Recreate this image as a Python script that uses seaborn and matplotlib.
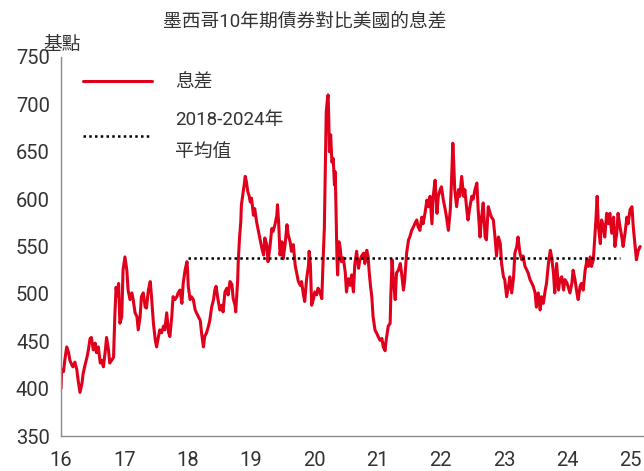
import matplotlib
matplotlib.use("Agg")
import matplotlib.pyplot as plt
import seaborn as sns

# spread of Mexico 10y bond over US 10y, basis points
years = [
    2016.00, 2016.01, 2016.04, 2016.06, 2016.09, 2016.12, 2016.14, 2016.17, 2016.19, 2016.22,
    2016.25, 2016.27, 2016.30, 2016.33, 2016.35, 2016.38, 2016.41, 2016.43, 2016.46, 2016.48,
    2016.51, 2016.54, 2016.56, 2016.59, 2016.62, 2016.64, 2016.67, 2016.70, 2016.72, 2016.75,
    2016.77, 2016.80, 2016.83, 2016.85, 2016.87, 2016.89, 2016.91, 2016.93, 2016.96, 2016.98,
    2017.01, 2017.04, 2017.06, 2017.09, 2017.12, 2017.14, 2017.17, 2017.20, 2017.22, 2017.25,
    2017.27, 2017.30, 2017.33, 2017.35, 2017.38, 2017.41, 2017.43, 2017.46, 2017.49, 2017.51,
    2017.54, 2017.56, 2017.59, 2017.62, 2017.64, 2017.67, 2017.70, 2017.72, 2017.75, 2017.77,
    2017.80, 2017.83, 2017.85, 2017.88, 2017.91, 2017.93, 2017.96, 2017.99, 2018.00, 2018.01,
    2018.04, 2018.06, 2018.09, 2018.12, 2018.14, 2018.17, 2018.20, 2018.22, 2018.25, 2018.27,
    2018.30, 2018.33, 2018.35, 2018.38, 2018.41, 2018.43, 2018.45, 2018.48, 2018.51, 2018.54,
    2018.56, 2018.59, 2018.62, 2018.64, 2018.67, 2018.70, 2018.72, 2018.75, 2018.76, 2018.79,
    2018.80, 2018.82, 2018.84, 2018.85, 2018.88, 2018.90, 2018.91, 2018.93, 2018.95, 2018.97,
    2018.99, 2019.01, 2019.04, 2019.06, 2019.09, 2019.12, 2019.14, 2019.17, 2019.20, 2019.22,
    2019.25, 2019.27, 2019.30, 2019.33, 2019.35, 2019.38, 2019.41, 2019.42, 2019.44, 2019.46,
    2019.49, 2019.51, 2019.54, 2019.57, 2019.59, 2019.62, 2019.64, 2019.67, 2019.70, 2019.72,
    2019.75, 2019.78, 2019.80, 2019.83, 2019.85, 2019.88, 2019.91, 2019.92, 2019.94, 2019.96,
    2019.99, 2020.01, 2020.04, 2020.06, 2020.09, 2020.12, 2020.14, 2020.16, 2020.18, 2020.19,
    2020.21, 2020.22, 2020.23, 2020.24, 2020.26, 2020.28, 2020.30, 2020.32, 2020.33, 2020.34,
    2020.36, 2020.37, 2020.39, 2020.41, 2020.43, 2020.46, 2020.49, 2020.51, 2020.54, 2020.57,
    2020.59, 2020.62, 2020.64, 2020.67, 2020.70, 2020.72, 2020.75, 2020.78, 2020.80, 2020.83,
    2020.85, 2020.87, 2020.89, 2020.91, 2020.93, 2020.96, 2020.99, 2021.01, 2021.04, 2021.07,
    2021.09, 2021.12, 2021.13, 2021.16, 2021.17, 2021.20, 2021.21, 2021.23, 2021.25, 2021.28,
    2021.30, 2021.33, 2021.36, 2021.38, 2021.41, 2021.43, 2021.46, 2021.49, 2021.51, 2021.54,
    2021.57, 2021.59, 2021.62, 2021.64, 2021.67, 2021.70, 2021.72, 2021.75, 2021.78, 2021.80,
    2021.83, 2021.86, 2021.88, 2021.91, 2021.94, 2021.96, 2021.99, 2022.01, 2022.04, 2022.07,
    2022.09, 2022.12, 2022.15, 2022.17, 2022.19, 2022.20, 2022.22, 2022.25, 2022.28, 2022.30,
    2022.33, 2022.36, 2022.38, 2022.41, 2022.43, 2022.46, 2022.49, 2022.51, 2022.54, 2022.57,
    2022.59, 2022.62, 2022.64, 2022.67, 2022.70, 2022.72, 2022.75, 2022.78, 2022.80, 2022.83,
    2022.86, 2022.88, 2022.91, 2022.94, 2022.96, 2022.99, 2023.01, 2023.04, 2023.07, 2023.09,
    2023.12, 2023.15, 2023.17, 2023.20, 2023.22, 2023.25, 2023.28, 2023.30, 2023.33, 2023.36,
    2023.38, 2023.41, 2023.44, 2023.46, 2023.49, 2023.51, 2023.54, 2023.57, 2023.59, 2023.62,
    2023.65, 2023.67, 2023.70, 2023.73, 2023.75, 2023.78, 2023.80, 2023.83, 2023.86, 2023.88,
    2023.91, 2023.94, 2023.96, 2023.99, 2024.01, 2024.04, 2024.07, 2024.09, 2024.12, 2024.15,
    2024.17, 2024.20, 2024.22, 2024.25, 2024.28, 2024.31, 2024.33, 2024.36, 2024.38, 2024.41,
    2024.43, 2024.45, 2024.47, 2024.49, 2024.52, 2024.54, 2024.57, 2024.59, 2024.62, 2024.65,
    2024.67, 2024.70, 2024.73, 2024.75, 2024.78, 2024.80, 2024.83, 2024.86, 2024.88, 2024.91,
    2024.94, 2024.96, 2024.99, 2025.02, 2025.04, 2025.07, 2025.09, 2025.12, 2025.15,
]
spread_bp = [
    400, 420, 418, 430, 444, 438, 430, 425, 423, 428,
    420, 409, 396, 405, 416, 425, 433, 440, 453, 454,
    441, 448, 438, 444, 427, 430, 423, 440, 454, 441,
    427, 430, 433, 476, 507, 498, 511, 469, 476, 525,
    539, 525, 504, 494, 501, 494, 480, 476, 462, 476,
    497, 501, 486, 485, 504, 513, 497, 469, 451, 444,
    455, 462, 459, 466, 462, 480, 459, 455, 476, 497,
    494, 497, 501, 504, 490, 511, 525, 534, 525, 508,
    494, 497, 494, 483, 480, 476, 472, 459, 444, 455,
    459, 466, 472, 486, 494, 504, 508, 494, 483, 488,
    481, 502, 506, 499, 513, 510, 495, 488, 481, 513,
    534, 559, 576, 594, 608, 618, 624, 618, 608, 604,
    597, 601, 583, 590, 576, 566, 559, 549, 541, 559,
    552, 534, 549, 569, 566, 573, 583, 594, 573, 541,
    555, 537, 552, 573, 562, 555, 545, 552, 530, 523,
    513, 509, 513, 499, 492, 516, 530, 545, 530, 488,
    495, 502, 499, 506, 502, 495, 534, 569, 650, 692,
    706, 710, 685, 650, 668, 639, 643, 615, 629, 604,
    537, 520, 555, 549, 534, 538, 523, 502, 516, 509,
    520, 502, 530, 545, 527, 535, 540, 543, 532, 546,
    540, 522, 508, 497, 476, 462, 458, 455, 451, 453,
    444, 440, 448, 462, 466, 469, 497, 536, 515, 494,
    522, 525, 532, 522, 504, 515, 543, 557, 560, 567,
    571, 574, 578, 571, 567, 581, 574, 585, 599, 592,
    603, 574, 603, 620, 585, 603, 610, 613, 599, 589,
    581, 567, 589, 620, 659, 645, 610, 592, 610, 603,
    624, 603, 610, 589, 578, 592, 603, 600, 610, 617,
    589, 560, 578, 596, 560, 557, 592, 585, 581, 578,
    557, 540, 560, 553, 532, 518, 515, 497, 508, 518,
    501, 518, 543, 550, 560, 543, 536, 540, 529, 525,
    522, 515, 511, 508, 501, 486, 501, 483, 497, 490,
    504, 511, 532, 546, 539, 522, 501, 532, 504, 515,
    518, 504, 515, 512, 508, 501, 511, 525, 515, 501,
    494, 508, 511, 504, 525, 536, 529, 539, 529, 536,
    557, 578, 603, 571, 553, 578, 571, 560, 585, 574,
    585, 564, 581, 550, 564, 585, 571, 560, 550, 564,
    581, 574, 589, 592, 571, 550, 536, 546, 550,
]

avg_label = "2018-2024年\n平均值"
avg_value = 538
avg_start, avg_end = 2018.0, 2024.83

tick_years = [2016, 2017, 2018, 2019, 2020, 2021, 2022, 2023, 2024, 2025]
tick_labels = ["16", "17", "18", "19", "20", "21", "22", "23", "24", "25"]
y_ticks = [350, 400, 450, 500, 550, 600, 650, 700, 750]

sns.set_style("white")
plt.rcParams["font.family"] = ["Roboto", "Noto Sans CJK TC", "DejaVu Sans"]
text_color = "#333333"
red = "#E0001B"

fig = plt.figure(figsize=(6.44, 4.71), dpi=100)
ax = fig.add_axes([61 / 644, 1 - 436 / 471, (644 - 61) / 644, (436 - 57) / 471])

sns.lineplot(x=years, y=spread_bp, ax=ax, color=red, linewidth=2.2, label="息差")
sns.lineplot(x=[avg_start, avg_end], y=[avg_value, avg_value], ax=ax, color="black",
             linewidth=1.8, linestyle=(0, (1, 1.3)), label=avg_label)

ax.set_xlim(2016, 2025.21)
ax.set_ylim(350, 750)
ax.set_xticks(tick_years)
ax.set_xticklabels(tick_labels)
ax.set_yticks(y_ticks)
ax.tick_params(axis="both", length=0, labelsize=14.5, colors=text_color)
ax.tick_params(axis="x", pad=11)
ax.tick_params(axis="y", pad=8)
ax.set_xlabel("")
ax.set_ylabel("")
for side in ["top", "right"]:
    ax.spines[side].set_visible(False)
for side in ["left", "bottom"]:
    ax.spines[side].set_color("#8c8c8c")
    ax.spines[side].set_linewidth(1.0)

leg = ax.legend(loc="upper left", bbox_to_anchor=(0.021, 0.98), frameon=False, fontsize=13.5,
                handlelength=3.7, handletextpad=1.25, labelspacing=1.0, borderpad=0,
                labelcolor=text_color)
for t in leg.get_texts():
    t.set_linespacing(2.0)

fig.text(305 / 644, 1 - 22 / 471, "墨西哥10年期債券對比美國的息差", ha="center", va="center",
         fontsize=13.5, color=text_color)
fig.text(62 / 644, 1 - 45 / 471, "基點", ha="center", va="center", fontsize=13.5, color=text_color)

fig.savefig("out.png", dpi=100)
